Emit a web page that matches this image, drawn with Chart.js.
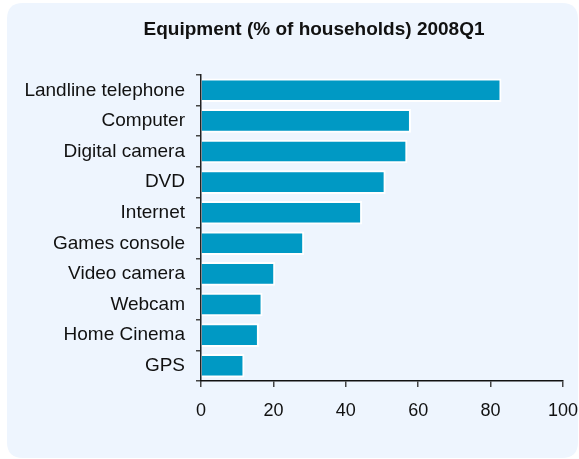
<!DOCTYPE html>
<html>
<head>
<meta charset="utf-8">
<script src="https://cdn.jsdelivr.net/npm/chart.js@4/dist/chart.umd.min.js"></script>
<style>
  html, body { margin: 0; padding: 0; background: #ffffff; }
  #wrap { width: 579px; height: 459px; position: relative; }
</style>
</head>
<body>
<div id="wrap"><canvas id="c"></canvas></div>
<script>
// Household equipment rates, first quarter of 2008
const categories = ['Landline telephone', 'Computer', 'Digital camera', 'DVD', 'Internet',
                    'Games console', 'Video camera', 'Webcam', 'Home Cinema', 'GPS'];
const shares = [83, 58, 57, 51, 44.5, 28.5, 20.5, 17, 16, 12];
const xTicks = [0, 20, 40, 60, 80, 100];
const chartTitle = 'Equipment (% of households) 2008Q1';

const FONT = "'Liberation Sans', Arial, Helvetica, sans-serif";

// light blue rounded panel behind the whole chart, plus the heading
const panel = {
  id: 'panel',
  beforeDraw(chart) {
    const ctx = chart.ctx;
    ctx.save();
    ctx.fillStyle = '#ffffff';
    ctx.fillRect(0, 0, chart.width, chart.height);
    const x = 7, y = 3, w = 571, h = 455, r = 16;
    ctx.beginPath();
    ctx.moveTo(x + r, y);
    ctx.lineTo(x + w - r, y);
    ctx.quadraticCurveTo(x + w, y, x + w, y + r);
    ctx.lineTo(x + w, y + h - r);
    ctx.quadraticCurveTo(x + w, y + h, x + w - r, y + h);
    ctx.lineTo(x + r, y + h);
    ctx.quadraticCurveTo(x, y + h, x, y + h - r);
    ctx.lineTo(x, y + r);
    ctx.quadraticCurveTo(x, y, x + r, y);
    ctx.closePath();
    ctx.fillStyle = '#EEF5FE';
    ctx.fill();

    ctx.fillStyle = '#111111';
    ctx.font = 'bold 19px ' + FONT;
    ctx.textAlign = 'center';
    ctx.textBaseline = 'alphabetic';
    ctx.fillText(chartTitle, 314, 35);
    ctx.restore();
  }
};

new Chart(document.getElementById('c'), {
  type: 'bar',
  data: {
    labels: categories,
    datasets: [{
      data: shares,
      backgroundColor: '#0099C4',
      borderColor: '#ffffff',
      borderWidth: 2,
      borderSkipped: 'start',
      categoryPercentage: 1,
      barPercentage: 0.77
    }]
  },
  options: {
    indexAxis: 'y',
    responsive: true,
    maintainAspectRatio: false,
    animation: false,
    layout: { padding: { left: 0, right: 16, top: 75, bottom: 0 } },
    plugins: {
      legend: { display: false },
      tooltip: { enabled: false },
      title: { display: false }
    },
    scales: {
      y: {
        type: 'category',
        offset: true,
        border: { display: true, color: '#222222', width: 1.5 },
        grid: { offset: true, drawOnChartArea: false, drawTicks: true, tickLength: 5, color: '#444444', lineWidth: 1.5 },
        ticks: { color: '#111111', font: { family: FONT, size: 19 }, padding: 11 },
        afterFit(scale) {
          scale.width = 201;
          scale.paddingTop = 0; scale.paddingBottom = 0;
        }
      },
      x: {
        type: 'linear',
        min: 0,
        max: 100,
        afterBuildTicks(scale) { scale.ticks = xTicks.map(v => ({ value: v })); },
        border: { display: true, color: '#111111', width: 1.5 },
        grid: { drawOnChartArea: false, drawTicks: true, tickLength: 6, color: '#444444', lineWidth: 1.5 },
        ticks: { color: '#111111', font: { family: FONT, size: 18 }, padding: 13, maxRotation: 0, autoSkip: false },
        afterFit(scale) {
          scale.height = 78;
          scale.paddingLeft = 0; scale.paddingRight = 0;
        }
      }
    }
  },
  plugins: [panel]
});
</script>
</body>
</html>
